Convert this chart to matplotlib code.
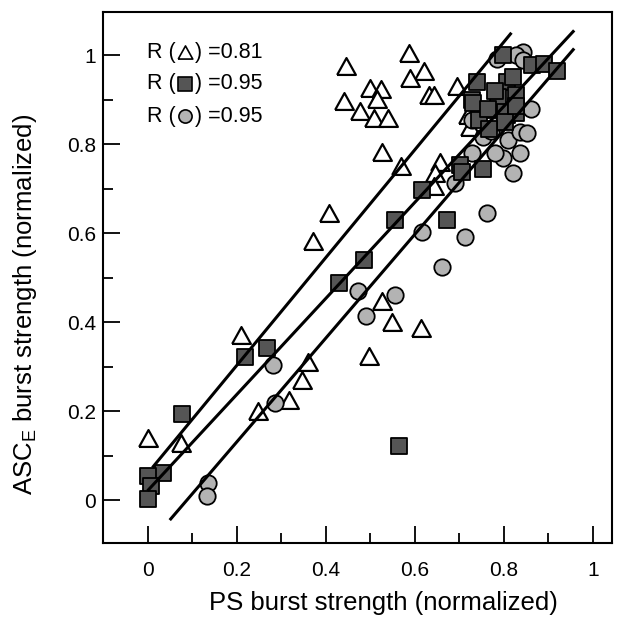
import matplotlib
matplotlib.use("Agg")
import matplotlib.pyplot as plt
import numpy as np

plt.rcParams['font.family'] = ['Liberation Sans', 'DejaVu Sans']
plt.rcParams['mathtext.fontset'] = 'custom'
plt.rcParams['mathtext.rm'] = 'Liberation Sans'

# ---- data ----
tri_x = [0.000, 0.075, 0.209, 0.248, 0.318, 0.346, 0.359, 0.371, 0.408, 0.496,
         0.525, 0.549, 0.614, 0.527, 0.568, 0.657, 0.646, 0.642, 0.586, 0.445,
         0.620, 0.590, 0.694, 0.499, 0.523, 0.631, 0.642, 0.514, 0.440, 0.477,
         0.507, 0.540, 0.724, 0.720]
tri_y = [0.140, 0.129, 0.372, 0.200, 0.224, 0.271, 0.310, 0.583, 0.645, 0.324,
         0.448, 0.400, 0.386, 0.783, 0.750, 0.761, 0.735, 0.705, 1.005, 0.975,
         0.965, 0.948, 0.930, 0.927, 0.925, 0.910, 0.910, 0.901, 0.898, 0.874,
         0.858, 0.858, 0.839, 0.866]

circ_x = [0.134, 0.133, 0.285, 0.281, 0.471, 0.491, 0.556, 0.615, 0.661, 0.713,
          0.763, 0.691, 0.821, 0.836, 0.798, 0.780, 0.728, 0.810, 0.836, 0.754,
          0.862, 0.851, 0.784, 0.843, 0.828, 0.843, 0.728, 0.770, 0.790]
circ_y = [0.038, 0.010, 0.219, 0.303, 0.469, 0.413, 0.461, 0.602, 0.523, 0.591,
          0.646, 0.712, 0.735, 0.780, 0.768, 0.780, 0.781, 0.809, 0.828, 0.815,
          0.878, 0.824, 0.992, 1.007, 1.000, 0.989, 0.854, 0.830, 0.850]

sq_x = [0.077, 0.034, 0.000, 0.008, 0.000, 0.218, 0.268, 0.429, 0.486, 0.555,
        0.615, 0.672, 0.564, 0.702, 0.706, 0.754, 0.798, 0.863, 0.890, 0.920,
        0.739, 0.808, 0.821, 0.728, 0.769, 0.787, 0.828, 0.806, 0.802, 0.828,
        0.802, 0.743, 0.731, 0.765, 0.780, 0.828, 0.766]
sq_y = [0.193, 0.062, 0.054, 0.032, 0.002, 0.322, 0.341, 0.488, 0.539, 0.630,
        0.697, 0.630, 0.122, 0.753, 0.738, 0.744, 1.000, 0.979, 0.981, 0.964,
        0.939, 0.940, 0.951, 0.899, 0.877, 0.906, 0.910, 0.866, 0.873, 0.869,
        0.850, 0.854, 0.892, 0.880, 0.920, 0.886, 0.833]

# regression lines: triangle, square, circle
fit_slope = [1.211, 1.079, 1.166]
fit_intercept = [0.061, 0.022, -0.102]
fit_x_start = [0.010, -0.001, 0.049]
fit_x_end = [0.817, 0.958, 0.958]

legend_labels = ["=0.81", "=0.95", "=0.95"]

xticks = [0, 0.2, 0.4, 0.6, 0.8, 1.0]
xticklabels = ["0", "0.2", "0.4", "0.6", "0.8", "1"]
yticks = [0, 0.2, 0.4, 0.6, 0.8, 1.0]
yticklabels = ["0", "0.2", "0.4", "0.6", "0.8", "1"]
minor_ticks = [0.1, 0.3, 0.5, 0.7, 0.9]

# ---- figure ----
fig = plt.figure(figsize=(6.35, 6.19), dpi=100)
ax = fig.add_axes([0.1622, 0.1223, 0.8016, 0.8583])

tri_marker = [(-1, -0.9), (1, -0.9), (0, 0.9), (-1, -0.9)]

ax.scatter(tri_x, tri_y, marker=tri_marker, s=13.5**2, facecolor='white',
           edgecolor='black', linewidth=1.6, zorder=2)
ax.scatter(circ_x, circ_y, marker='o', s=11.8**2, facecolor='#b3b3b3',
           edgecolor='black', linewidth=1.3, zorder=3)
ax.scatter(sq_x, sq_y, marker='s', s=11.6**2, facecolor='#555555',
           edgecolor='black', linewidth=1.3, zorder=4)

for m, b, x0, x1 in zip(fit_slope, fit_intercept, fit_x_start, fit_x_end):
    xs = np.array([x0, x1])
    ax.plot(xs, m * xs + b, color='black', linewidth=2.2, zorder=5,
            solid_capstyle='butt')

ax.set_xlim(-0.101, 1.043)
ax.set_ylim(-0.097, 1.097)

ax.set_xticks(xticks)
ax.set_xticklabels(xticklabels)
ax.set_yticks(yticks)
ax.set_yticklabels(yticklabels)
ax.set_xticks(minor_ticks, minor=True)
ax.set_yticks(minor_ticks, minor=True)
ax.tick_params(which='both', direction='in', width=1.3, top=False, right=False,
               labelsize=15, color='black')
ax.tick_params(axis='x', which='major', length=12, pad=12.5)
ax.tick_params(axis='x', which='minor', length=7)
ax.tick_params(axis='y', which='major', length=12, pad=5)
ax.tick_params(axis='y', which='minor', length=7)

for sp in ax.spines.values():
    sp.set_linewidth(1.5)

ax.set_xlabel("PS burst strength (normalized)", fontsize=18.5, labelpad=8)
ax.set_ylabel(r"ASC$_{\mathregular{E}}$ burst strength (normalized)",
              fontsize=18.5, labelpad=20)
ax.xaxis.label.set_x(0.55)
ax.yaxis.label.set_y(0.45)

# legend-like annotation
leg_y = [1.007, 0.936, 0.863]
leg_markers = [tri_marker, 's', 'o']
leg_colors = ['white', '#555555', '#b3b3b3']
for yy, mk, fc, lab in zip(leg_y, leg_markers, leg_colors, legend_labels):
    ax.text(-0.002, yy, "R (", fontsize=15.5, va='center', ha='left', zorder=6)
    ax.scatter([0.083], [yy], marker=mk, s=9.5**2 if mk != tri_marker else 10.5**2,
               facecolor=fc, edgecolor='black', linewidth=1.2, zorder=6)
    ax.text(0.106, yy, ") " + lab, fontsize=15.5, va='center', ha='left', zorder=6)

fig.savefig("out.png", dpi=100)
